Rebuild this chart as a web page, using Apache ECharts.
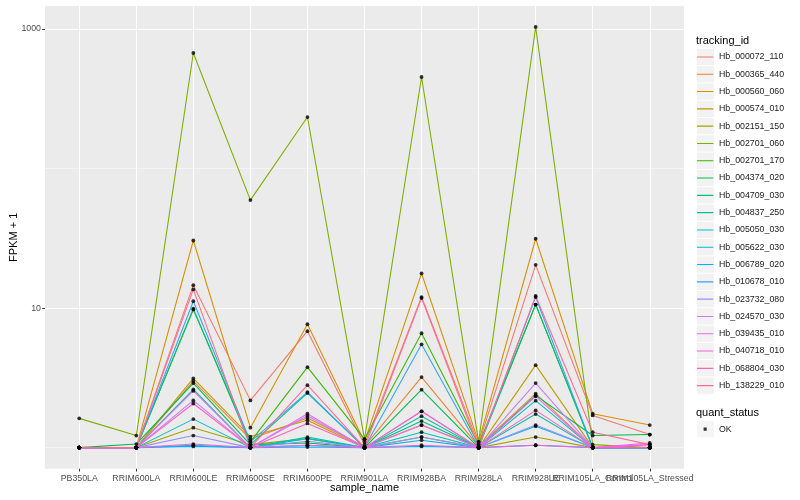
<!DOCTYPE html>
<html><head><meta charset="utf-8">
<script src="https://cdn.jsdelivr.net/npm/echarts@6/dist/echarts.min.js"></script>
<style>html,body{margin:0;padding:0;background:#fff}#c{width:800px;height:500px}</style>
</head><body><div id="c"></div>
<script>
const categories = ['PB350LA','RRIM600LA','RRIM600LE','RRIM600SE','RRIM600PE','RRIM901LA','RRIM928BA','RRIM928LA','RRIM928LE','RRIM105LA_Control','RRIM105LA_Stressed'];
const trackingIds = ['Hb_000072_110','Hb_000365_440','Hb_000560_060','Hb_000574_010','Hb_002151_150','Hb_002701_060','Hb_002701_170','Hb_004374_020','Hb_004709_030','Hb_004837_250','Hb_005050_030','Hb_005622_030','Hb_006789_020','Hb_010678_010','Hb_023732_080','Hb_024570_030','Hb_039435_010','Hb_040718_010','Hb_068804_030','Hb_138229_010'];
const lineColors = ['#F8766D','#EA8331','#D89000','#C09B00','#A3A500','#7CAE00','#39B600','#00BB4E','#00BF7D','#00C1A3','#00BFC4','#00BAE0','#00B0F6','#35A2FF','#9590FF','#C77CFF','#E76BF3','#FA62DB','#FF62BC','#FF6C91'];

// FPKM + 1 per sample (same order as categories)
const hb_000072_110 = [1, 1, 14.6, 2.18, 6.83, 1.05, 12.0, 1.06, 20.4, 1.70, 1.24];
const hb_000365_440 = [1, 1, 3.0, 1.15, 1.63, 1.02, 3.2, 1.02, 2.44, 1.0, 1.0];
const hb_000560_060 = [1, 1, 30.5, 1.39, 7.66, 1.1, 17.7, 1.1, 31.4, 1.75, 1.45];
const hb_000574_010 = [1, 1, 3.13, 1.2, 1.57, 1.0, 1.45, 1.0, 3.9, 1.0, 1.0];
const hb_002151_150 = [1, 1, 1.39, 1.05, 1.16, 1.0, 1.19, 1.0, 1.19, 1.0, 1.0];
const hb_002701_060 = [1.62, 1.22, 673, 59.4, 234, 1.15, 453, 1.1, 1035, 1.05, 1.0];
const hb_002701_170 = [1, 1, 9.75, 1.1, 3.77, 1.15, 6.6, 1.05, 10.6, 1.0, 1.0];
const hb_004374_020 = [1, 1.06, 2.9, 1.05, 1.08, 1.0, 2.6, 1.0, 2.37, 1.22, 1.24];
const hb_004709_030 = [1, 1, 9.9, 1.05, 2.46, 1.0, 1.55, 1.0, 10.6, 1.0, 1.0];
const hb_004837_250 = [1, 1, 2.61, 1.0, 1.19, 1.0, 1.68, 1.0, 1.74, 1.0, 1.0];
const hb_005050_030 = [1, 1, 1.6, 1.0, 1.16, 1.0, 1.29, 1.0, 2.17, 1.0, 1.0];
const hb_005622_030 = [1, 1, 1.04, 1.0, 1.04, 1.0, 1.13, 1.0, 1.42, 1.0, 1.0];
const hb_006789_020 = [1, 1, 1.02, 1.0, 1.01, 1.0, 1.02, 1.0, 1.04, 1.0, 1.0];
const hb_010678_010 = [1, 1, 11.2, 1.1, 2.50, 1.0, 5.5, 1.0, 12.0, 1.0, 1.0];
const hb_023732_080 = [1, 1, 1.22, 1.0, 1.11, 1.0, 1.19, 1.0, 1.45, 1.0, 1.0];
const hb_024570_030 = [1, 1, 2.18, 1.0, 1.69, 1.0, 1.82, 1.0, 2.9, 1.0, 1.05];
const hb_039435_010 = [1, 1, 2.55, 1.0, 1.75, 1.0, 1.45, 1.0, 2.33, 1.0, 1.08];
const hb_040718_010 = [1, 1, 1.06, 1.0, 1.04, 1.0, 1.04, 1.0, 1.04, 1.0, 1.05];
const hb_068804_030 = [1, 1, 2.07, 1.0, 1.49, 1.0, 1.82, 1.0, 1.85, 1.0, 1.0];
const hb_138229_010 = [1, 1, 13.6, 1.0, 2.80, 1.0, 11.8, 1.0, 12.2, 1.29, 1.05];

const seriesValues = [hb_000072_110, hb_000365_440, hb_000560_060, hb_000574_010, hb_002151_150, hb_002701_060, hb_002701_170, hb_004374_020, hb_004709_030, hb_004837_250, hb_005050_030, hb_005622_030, hb_006789_020, hb_010678_010, hb_023732_080, hb_024570_030, hb_039435_010, hb_040718_010, hb_068804_030, hb_138229_010];

const yMajorTicks = [10, 1000];
const yMinorTicks = [1, 100];
const quantStatus = ['OK'];

const FONT = '"Liberation Sans", Arial, Helvetica, sans-serif';
const chart = echarts.init(document.getElementById('c'), null, {renderer: 'canvas'});
const xIdx = categories.map((c, i) => i);
// labels split over two axes so that overlapping neighbours are both drawn, as in the reference
const xIdxA = xIdx.filter(i => i % 2 === 0);
const xIdxB = xIdx.filter(i => i % 2 === 1);

const lineSeries = trackingIds.map((id, k) => ({
  name: id, type: 'line',
  data: seriesValues[k].map((v, i) => [i, v]),
  showSymbol: false, symbol: 'none',
  lineStyle: {color: lineColors[k], width: 1.07},
  itemStyle: {color: lineColors[k]},
  silent: true, animation: false, z: 2
}));
const pointSeries = {
  name: quantStatus[0], type: 'scatter',
  data: [].concat(...seriesValues.map(vals => vals.map((v, i) => [i, v]))),
  symbol: 'circle', symbolSize: 3.8,
  itemStyle: {color: '#000'}, z: 3, silent: true, animation: false
};

const lineIcon = 'path://M0,0L0.01,0L0,0.01Z M0,7.95H17V9.05H0Z M17,17L16.99,17L17,16.99Z';
const dotIcon = 'path://M0,0L0.01,0L0,0.01Z M6.9,6.9H10.1V10.1H6.9Z M17,17L16.99,17L17,16.99Z';
const legendBase = {orient: 'vertical', left: 697, itemWidth: 17, itemHeight: 16.3, itemGap: 1, selectedMode: false, padding: 0};

function xAxisDef(vals, withName) {
  return {
    type: 'value', min: -0.6, max: 10.6, position: 'bottom', offset: 0,
    axisLine: {show: false, onZero: false},
    axisTick: {show: true, length: 2.75, customValues: vals, lineStyle: {color: '#333333', width: 1.07}},
    axisLabel: {customValues: vals, formatter: v => categories[Math.round(v)], fontSize: 8.8, color: '#4D4D4D', margin: 5, fontFamily: FONT, hideOverlap: false},
    splitLine: {show: true, lineStyle: {color: '#FFFFFF', width: 1.07}},
    name: withName ? 'sample_name' : '', nameLocation: 'middle', nameGap: 14, nameMoveOverlap: false,
    nameTextStyle: {fontSize: 11, color: '#000', fontFamily: FONT}
  };
}

chart.setOption({
  animation: false,
  backgroundColor: '#fff',
  title: [
    {text: 'tracking_id', left: 696, top: 35, padding: 0, textStyle: {fontSize: 11, fontWeight: 'normal', color: '#000', fontFamily: FONT}},
    {text: 'quant_status', left: 696, top: 407, padding: 0, textStyle: {fontSize: 11, fontWeight: 'normal', color: '#000', fontFamily: FONT}}
  ],
  legend: [
    Object.assign({}, legendBase, {top: 48.8, z: 4, icon: 'rect', itemStyle: {color: '#F2F2F2', borderWidth: 0},
      data: trackingIds, textStyle: {fontSize: 8.8, color: '#1A1A1A', fontFamily: FONT}}),
    Object.assign({}, legendBase, {top: 48.8, z: 5, icon: lineIcon,
      data: trackingIds.map((id, k) => ({name: id, itemStyle: {color: lineColors[k], borderWidth: 0}})),
      textStyle: {fontSize: 8.8, color: 'rgba(0,0,0,0)', fontFamily: FONT}}),
    Object.assign({}, legendBase, {top: 421, z: 4, icon: 'rect', itemStyle: {color: '#F2F2F2', borderWidth: 0},
      data: quantStatus, textStyle: {fontSize: 8.8, color: '#1A1A1A', fontFamily: FONT}}),
    Object.assign({}, legendBase, {top: 421, z: 5, icon: dotIcon,
      data: quantStatus.map(n => ({name: n, itemStyle: {color: '#000', borderWidth: 0}})),
      textStyle: {fontSize: 8.8, color: 'rgba(0,0,0,0)', fontFamily: FONT}})
  ],
  grid: {left: 45, right: 116, top: 6, bottom: 31.3, show: true, backgroundColor: '#EBEBEB', borderWidth: 0, containLabel: false, outerBoundsMode: 'none'},
  xAxis: [xAxisDef(xIdxA, true), xAxisDef(xIdxB, false)],
  yAxis: [
    {
      type: 'log', logBase: 10, min: 0.706, max: 1462,
      axisLine: {show: false, onZero: false},
      axisTick: {show: true, length: 2.75, customValues: yMajorTicks, lineStyle: {color: '#333333', width: 1.07}},
      axisLabel: {customValues: yMajorTicks, formatter: v => String(Math.round(v)), fontSize: 8.8, color: '#4D4D4D', margin: 4, fontFamily: FONT, hideOverlap: false},
      splitLine: {show: true, lineStyle: {color: '#FFFFFF', width: 1.07}},
      name: 'FPKM + 1', nameLocation: 'middle', nameGap: 26, nameRotate: 90, nameMoveOverlap: false,
      nameTextStyle: {fontSize: 11, color: '#000', fontFamily: FONT}
    },
    {
      type: 'log', logBase: 10, min: 0.706, max: 1462, position: 'left',
      axisLine: {show: false, onZero: false},
      axisTick: {show: true, length: 0, customValues: yMinorTicks, lineStyle: {color: 'rgba(0,0,0,0)', width: 0}},
      axisLabel: {show: false, customValues: yMinorTicks},
      splitLine: {show: true, lineStyle: {color: '#FFFFFF', width: 0.53}}
    }
  ],
  series: lineSeries.concat([pointSeries])
});
</script>
</body></html>
